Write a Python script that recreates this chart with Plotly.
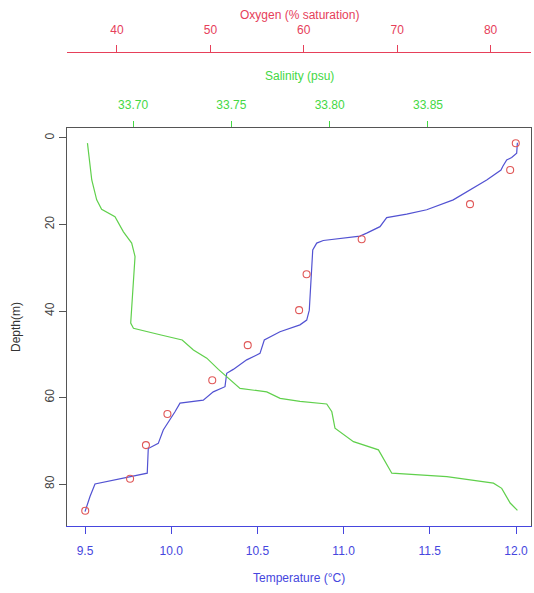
import plotly.graph_objects as go

# Temperature profile (°C) vs depth (m)
temp_depth = [1.1, 3.5, 4.5, 5.1, 6.6, 7.4, 9.7, 12.0, 14.3, 16.6, 17.6, 18.4, 20.5, 22.0, 22.7,
              23.7, 24.3, 25.9, 32.8, 39.8, 42.1, 43.2, 44.8, 46.7, 49.8, 51.3, 53.5, 54.4, 57.5,
              58.7, 60.6, 61.3, 63.3, 67.5, 70.6, 71.8, 77.5, 78.5, 80.0, 82.9, 85.2, 86.4]
temp_vals = [12.008, 12.004, 11.975, 11.946, 11.923, 11.913, 11.83, 11.733, 11.636, 11.482, 11.366,
             11.25, 11.211, 11.134, 11.095, 10.882, 10.844, 10.821, 10.811, 10.801, 10.786, 10.747,
             10.631, 10.54, 10.515, 10.438, 10.36, 10.322, 10.312, 10.244, 10.186, 10.051, 10.022,
             9.954, 9.925, 9.867, 9.861, 9.742, 9.558, 9.529, 9.51, 9.5]

# Salinity profile (psu) vs depth (m)
sal_depth = [1.2, 3.5, 6.6, 9.7, 14.3, 16.5, 18.2, 21.7, 24.3, 27.4, 42.8, 44.0, 45.5, 46.7, 49.0,
             50.9, 53.5, 55.2, 57.9, 58.7, 60.2, 60.9, 61.5, 63.3, 67.1, 70.2, 72.1, 77.5, 78.3,
             79.8, 81.0, 84.4, 86.1]
sal_vals = [33.6768, 33.6773, 33.6781, 33.679, 33.6815, 33.684, 33.6908, 33.6951, 33.6993, 33.701,
            33.6988, 33.7002, 33.7137, 33.7250, 33.7307, 33.7375, 33.7434, 33.7477, 33.7544, 33.768,
            33.7748, 33.7849, 33.7985, 33.8011, 33.8027, 33.8121, 33.8248, 33.8316, 33.8596,
            33.8833, 33.8875, 33.8918, 33.8955]

# Oxygen samples (% saturation) vs depth (m)
oxy_depth = [1.2, 7.4, 15.3, 23.4, 31.5, 39.8, 47.9, 56.0, 63.8, 71.0, 78.8, 86.2]
oxy_vals = [82.7, 82.1, 77.8, 66.2, 60.3, 59.5, 54.0, 50.2, 45.4, 43.1, 41.4, 36.6]

temp_ticks = [9.5, 10.0, 10.5, 11.0, 11.5, 12.0]
sal_ticks = [33.70, 33.75, 33.80, 33.85]
oxy_ticks = [40, 50, 60, 70, 80]
depth_ticks = [0, 20, 40, 60, 80]

BLUE = "#4646de"
BLUE_LINE = "#5252d2"
GREEN = "#44d844"
GREEN_LINE = "#60d04c"
RED = "#e6405a"
RED_PT = "#e05858"
FONT = "Liberation Sans"

fig = go.Figure()
fig.add_trace(go.Scatter(x=temp_vals, y=temp_depth, mode="lines", xaxis="x", yaxis="y",
                         line=dict(color=BLUE_LINE, width=1.2), showlegend=False))
fig.add_trace(go.Scatter(x=sal_vals, y=sal_depth, mode="lines", xaxis="x2", yaxis="y",
                         line=dict(color=GREEN_LINE, width=1.2), showlegend=False))
fig.add_trace(go.Scatter(x=oxy_vals, y=oxy_depth, mode="markers", xaxis="x3", yaxis="y",
                         marker=dict(symbol="circle-open", size=7, color=RED_PT,
                                     line=dict(width=1.1, color=RED_PT)),
                         showlegend=False))

L, R, T, B = 67, 531, 52, 526
W, H = 534, 593

fig.update_layout(
    width=W, height=H,
    margin=dict(l=L, r=W - R, t=T, b=H - B, pad=0, autoexpand=False),
    paper_bgcolor="white", plot_bgcolor="white",
    font=dict(family=FONT, size=12, color="#333"),
    xaxis=dict(range=[9.3956, 12.087], tickvals=temp_ticks, ticktext=[f"{v:.1f}" for v in temp_ticks],
               showgrid=False, zeroline=False, showline=True, linecolor=BLUE, linewidth=1,
               ticks="outside", ticklen=7, tickcolor=BLUE, tickfont=dict(color=BLUE, size=12),
               ticklabelstandoff=7, anchor="y", side="bottom", automargin=False),
    xaxis2=dict(range=[33.6664, 33.9024], tickvals=sal_ticks, ticktext=[f"{v:.2f}" for v in sal_ticks],
                showgrid=False, zeroline=False, showline=True, linecolor="#555", linewidth=1,
                ticks="outside", ticklen=6, tickcolor=GREEN, tickfont=dict(color=GREEN, size=12),
                ticklabelstandoff=7, anchor="y", side="top", overlaying="x", automargin=False),
    xaxis3=dict(range=[34.647, 84.33], tickvals=oxy_ticks, ticktext=[str(v) for v in oxy_ticks],
                showgrid=False, zeroline=False, showline=True, linecolor=RED, linewidth=1,
                ticks="outside", ticklen=7, tickcolor=RED, tickfont=dict(color=RED, size=12),
                ticklabelstandoff=6, anchor="free", position=1.0, side="top", overlaying="x",
                automargin=False),
    yaxis=dict(range=[89.71, -2.31], domain=[0, (B - 128) / (B - T)], tickvals=depth_ticks,
               ticktext=[str(v) for v in depth_ticks],
               showgrid=False, zeroline=False, showline=True, mirror=True, linecolor="#555",
               linewidth=1, ticks="outside", ticklen=7, tickcolor="#555", tickangle=270,
               tickfont=dict(color="#444", size=12), automargin=False),
)

def px(xp):
    return (xp - L) / (R - L)

def py(yp):
    return (B - yp) / (B - T)

fig.add_annotation(text="Temperature (°C)", x=0.5, y=py(578), xref="paper", yref="paper",
                   showarrow=False, font=dict(color=BLUE, size=12), xanchor="center", yanchor="middle")
fig.add_annotation(text="Salinity (psu)", x=0.5, y=py(76), xref="paper", yref="paper",
                   showarrow=False, font=dict(color=GREEN, size=12), xanchor="center", yanchor="middle")
fig.add_annotation(text="Oxygen (% saturation)", x=0.5, y=py(15), xref="paper", yref="paper",
                   showarrow=False, font=dict(color=RED, size=12), xanchor="center", yanchor="middle")
fig.add_annotation(text="Depth(m)", x=px(16), y=py(327), xref="paper", yref="paper", textangle=-90,
                   showarrow=False, font=dict(color="#333", size=12), xanchor="center", yanchor="middle")

fig.write_html("out.html", config={"displayModeBar": False},
               post_script="document.body.style.margin='0';document.body.style.overflow='hidden';")
